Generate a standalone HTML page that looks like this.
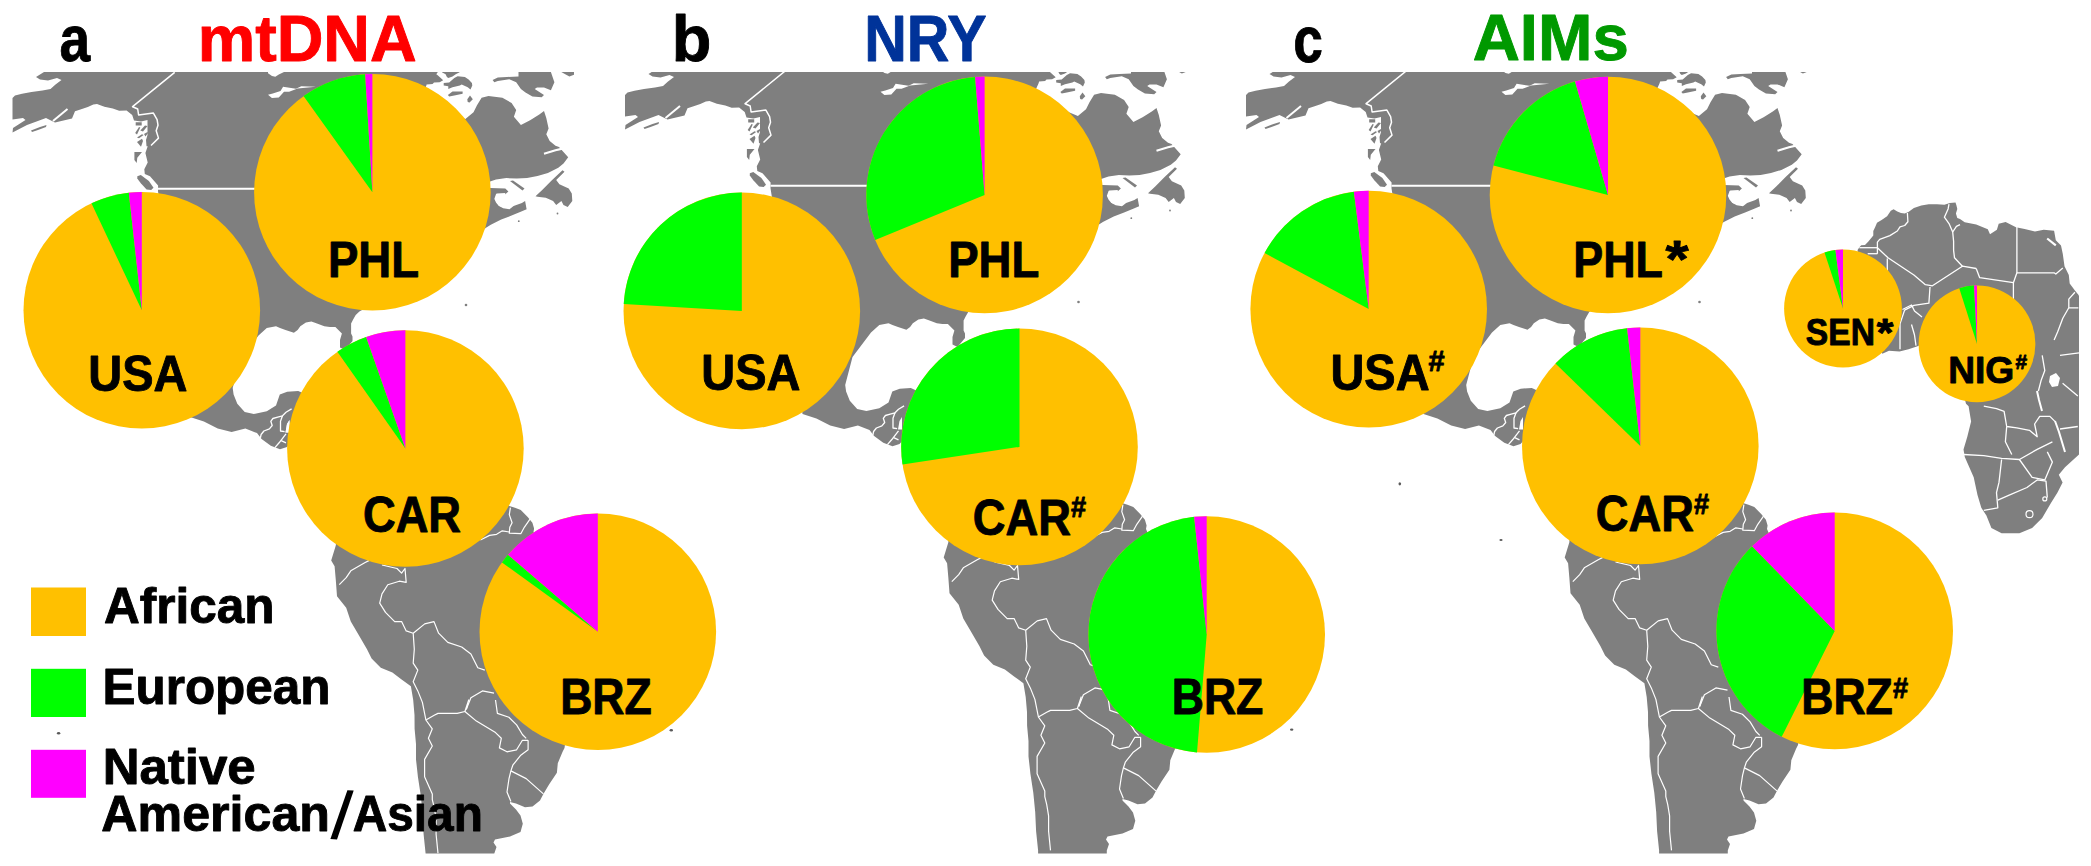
<!DOCTYPE html>
<html><head><meta charset="utf-8"><title>Ancestry pie charts</title>
<style>html,body{margin:0;padding:0;background:#fff;overflow:hidden}svg{display:block}</style>
</head><body><svg width="2091" height="866" viewBox="0 0 2091 866"><defs><g id="am"><g fill="#7f7f7f"><polygon points="44.0,60.0 437.7,60.0 437.7,72.2 436.3,74.3 437.7,75.2 443.2,80.3 439.6,82.2 434.0,82.6 432.6,84.0 426.6,84.5 426.2,85.9 420.0,100.0 465.4,119.1 473.5,112.2 477.0,105.3 481.6,97.8 488.5,96.0 502.4,97.8 511.6,103.0 516.2,109.9 513.9,116.8 520.9,124.9 530.1,120.3 539.3,114.5 544.0,111.0 546.3,118.0 548.6,128.4 546.3,134.2 549.7,141.1 555.5,145.7 559.0,146.9 568.2,157.3 563.5,163.5 558.3,167.7 547.9,172.9 537.5,176.0 527.1,178.1 516.8,178.6 506.4,178.1 496.0,179.6 490.8,181.2 480.0,185.0 490.3,187.9 505.3,188.4 508.4,191.6 505.3,194.2 497.0,194.7 495.5,198.8 497.0,202.0 499.1,206.1 503.2,208.2 509.5,209.2 513.6,206.1 521.9,203.0 525.1,200.9 526.6,209.2 521.9,211.3 511.6,215.5 501.2,219.6 490.8,224.8 485.6,227.9 430.0,280.0 380.0,300.0 359.4,311.4 355.7,315.1 353.0,319.7 351.1,323.4 351.1,333.6 352.5,336.4 352.5,341.0 345.0,350.0 340.0,347.4 340.0,340.0 341.9,333.6 335.4,327.1 329.9,327.1 324.3,326.2 317.0,323.4 311.4,321.6 305.9,322.5 300.3,326.2 297.6,329.9 293.9,332.7 285.5,329.9 280.0,328.0 276.0,326.2 266.8,328.0 258.5,335.4 240.0,360.0 232.7,388.0 233.6,394.5 237.3,403.8 244.7,412.1 253.9,414.0 266.8,411.2 276.0,405.6 279.8,394.5 287.2,391.8 298.2,390.9 300.0,391.8 360.0,420.0 480.0,480.0 509.3,506.0 515.0,507.7 520.8,510.0 527.7,516.9 532.4,522.7 534.1,528.5 533.5,532.0 580.0,640.0 564.5,747.9 562.6,751.8 557.8,763.3 556.9,772.8 549.2,784.3 543.4,793.9 540.0,800.6 532.5,806.6 525.0,807.3 516.0,803.6 510.0,802.0 510.0,803.6 516.0,809.6 520.5,815.6 522.8,823.8 520.5,832.0 510.0,836.6 495.0,839.6 493.5,842.6 496.5,847.1 494.3,853.4 494.3,870.0 425.6,870.0 425.6,853.4 423.6,834.2 422.7,815.0 420.8,795.8 417.9,776.7 416.0,759.4 416.0,744.1 414.6,728.8 414.5,715.0 413.2,700.1 410.9,686.3 401.6,679.4 392.4,672.4 380.8,667.8 371.6,658.6 367.0,649.3 357.7,633.2 350.8,621.6 346.2,607.8 337.0,596.2 335.8,580.0 334.6,566.2 331.2,560.4 335.8,545.4 340.0,500.0 289.3,444.6 287.0,447.0 280.0,449.3 270.8,445.8 261.6,438.9 257.0,433.1 245.4,428.5 231.6,432.0 217.7,428.5 203.9,421.6 190.0,417.0 180.0,330.0 158.0,191.3 158.1,185.5 150.0,176.2 144.8,173.9 144.3,169.3 147.7,162.4 145.4,153.1 147.7,146.2 146.5,146.2 146.0,140.0 147.5,135.0 147.5,120.0 141.0,121.5 134.0,120.5 132.2,115.0 126.6,110.4 119.2,110.8 112.8,108.5 104.4,106.7 97.0,104.1 93.3,104.4 87.8,107.1 80.4,109.4 75.0,111.3 72.0,118.5 55.0,122.5 46.0,118.0 27.0,125.0 12.5,132.5 13.0,128.0 25.5,120.0 23.0,118.0 12.5,119.6 12.5,98.0 15.0,95.6 22.0,93.7 31.5,92.0 42.5,90.5 50.5,89.0 55.5,84.5 61.5,80.0 57.0,78.0 48.0,80.5 40.0,79.5 36.0,77.0 44.0,72.0"/><polygon points="441.9,60.0 459.6,60.0 459.6,72.2 455.7,74.3 452.5,76.4 448.3,78.0 446.9,77.1 445.6,74.3 441.9,72.2"/><polygon points="443.7,83.1 443.7,85.4 448.3,86.3 448.3,89.1 452.5,87.2 459.9,85.4 461.7,84.5 467.7,87.2 470.5,89.5 472.3,85.4 471.9,83.1 468.6,79.4 464.9,77.1 457.6,76.2 454.3,78.0 449.2,82.6"/><polygon points="447.9,95.1 452.5,91.4 462.6,91.4 462.6,93.7 454.3,95.6 449.2,96.5"/><polygon points="467.3,99.2 470.0,95.6 472.8,99.2 469.6,102.5 467.7,102.0"/><polygon points="492.6,79.9 497.8,77.6 507.0,77.0 518.5,76.4 518.5,60.0 550.9,60.0 550.9,72.0 554.4,82.2 550.9,90.3 544.0,87.4 537.0,87.4 534.7,89.1 544.0,94.9 541.7,97.2 532.4,96.6 525.5,92.6 520.9,89.1 516.2,82.2 509.3,79.3 497.8,81.0 494.3,82.2"/><polygon points="561.3,60.0 574.0,60.0 574.0,74.7 569.4,76.4 564.8,74.1 561.3,72.0"/><polygon points="535.5,196.2 542.7,189.5 552.1,180.1 562.5,170.3 564.5,171.8 556.2,180.1 559.4,184.3 568.7,188.4 571.8,193.6 572.3,200.9 567.7,207.1 563.5,205.1 561.4,200.9 556.2,205.1 553.1,200.9 545.8,197.8 537.5,196.8"/><polygon points="510.0,181.0 513.0,180.5 524.5,188.5 522.5,190.5"/><polygon points="137.3,176.2 140.8,175.1 148.9,180.9 153.5,187.8 151.2,190.1 146.6,189.5 140.8,183.2 137.3,178.5"/><polygon points="134.4,152.0 142.0,152.0 137.3,157.8 136.7,163.0 134.4,160.0"/><polygon points="31.0,130.5 40.0,127.0 46.5,125.0 46.0,127.0 38.0,130.0 32.0,132.0"/><circle cx="466" cy="305" r="1.3"/><circle cx="518.8" cy="221.2" r="0.9"/><circle cx="557.5" cy="213.5" r="0.9"/></g><polygon points="287.0,424.0 289.5,420.0 289.5,432.5 285.5,432.5" fill="#fff"/><polygon points="268.0,60.0 268.0,73.3 272.0,75.9 275.3,76.8 278.8,74.6 284.0,72.0 284.0,60.0" fill="#fff"/><polygon points="268.0,94.8 271.9,97.9 278.8,97.4 284.0,91.8 289.1,91.8 297.7,88.4 315.8,86.7 301.2,86.2 296.0,88.8 283.1,86.7 280.5,91.0 272.8,93.5" fill="#fff"/><polygon points="135.7,122.2 141.7,122.2 141.7,125.4 135.7,125.4" fill="#7f7f7f"/><polygon points="135.2,133.0 139.0,127.0 140.3,127.5 137.0,134.6" fill="#7f7f7f"/><polygon points="140.3,130.5 145.0,125.4 147.5,126.0 143.0,131.4" fill="#7f7f7f"/><polygon points="144.0,134.0 147.5,131.9 148.0,133.0 145.5,136.5" fill="#7f7f7f"/><polygon points="137.0,137.5 142.0,134.2 143.6,135.0 139.0,138.3" fill="#7f7f7f"/><polygon points="137.0,142.0 142.0,138.8 143.0,141.0 141.0,146.7" fill="#7f7f7f"/><polyline points="174.7,72.3 132.6,106.7 137.7,109.0 138.6,115.0 153.4,113.1 157.1,119.6 158.0,125.2 156.2,130.7 158.5,138.1 151.0,145.5" fill="none" stroke="#fff" stroke-width="1.5" stroke-linejoin="round"/><polyline points="158.0,188.7 300.0,188.7" fill="none" stroke="#fff" stroke-width="2" stroke-linejoin="round"/><polyline points="67.5,109.0 53.0,121.0" fill="none" stroke="#fff" stroke-width="2" stroke-linejoin="round"/><polyline points="544.0,153.8 555.5,150.3 562.4,148.6" fill="none" stroke="#fff" stroke-width="2.2" stroke-linejoin="round"/><polyline points="505.3,194.2 497.0,194.7 495.5,198.8 497.0,202.0 499.5,205.0 504.0,206.5 509.0,206.5 513.0,203.5" fill="none" stroke="#fff" stroke-width="2.2" stroke-linejoin="round"/><polyline points="260.4,437.9 261.1,434.5 263.9,431.0 269.4,428.9 272.2,425.5 270.8,421.3 272.9,418.5 277.7,417.2 282.5,415.8 286.0,412.3 291.6,408.9" fill="none" stroke="#fff" stroke-width="1.3" stroke-linejoin="round"/><polyline points="282.5,415.8 280.5,421.3 280.5,431.0 284.6,431.7" fill="none" stroke="#fff" stroke-width="1.3" stroke-linejoin="round"/><polyline points="274.9,447.6 279.1,442.8 286.0,433.8" fill="none" stroke="#fff" stroke-width="1.3" stroke-linejoin="round"/><polyline points="281.2,440.7 286.0,442.8" fill="none" stroke="#fff" stroke-width="1.3" stroke-linejoin="round"/><polyline points="339.3,584.7 346.2,577.7 350.8,570.8 364.7,562.7 369.3,560.4" fill="none" stroke="#fff" stroke-width="1.2" stroke-linejoin="round"/><polyline points="382.0,565.0 397.0,568.5 401.6,573.1 405.0,568.5 406.2,582.4 399.3,581.2 387.8,584.7 382.0,593.9 379.7,603.1 385.5,612.4 394.7,621.6 401.6,621.6 406.2,630.9 413.2,633.2 424.7,623.9 434.0,621.6 438.6,633.2 447.8,642.4 461.7,647.0 470.9,653.9 477.8,667.8 484.8,670.1" fill="none" stroke="#fff" stroke-width="1.2" stroke-linejoin="round"/><polyline points="413.2,633.2 414.3,649.3 413.2,663.2 417.8,670.1 413.2,681.7 417.8,690.9 422.4,702.4 425.9,720.0 432.3,728.8 428.4,738.3 432.3,746.0 424.6,759.4 424.6,776.7 432.3,793.9 432.3,799.7 434.2,807.3 436.1,818.8 436.1,834.2 438.0,853.4" fill="none" stroke="#fff" stroke-width="1.2" stroke-linejoin="round"/><polyline points="425.9,720.0 434.2,715.3 438.0,713.4 457.2,713.4 464.9,711.5 468.7,700.0 466.3,709.4" fill="none" stroke="#fff" stroke-width="1.2" stroke-linejoin="round"/><polyline points="466.3,709.4 470.9,697.8 482.4,690.9 494.0,693.2" fill="none" stroke="#fff" stroke-width="1.2" stroke-linejoin="round"/><polyline points="464.9,711.5 476.4,721.1 495.5,732.6 501.3,738.3 499.4,747.9 507.0,751.8 516.6,749.8 522.4,740.3 528.1,740.3" fill="none" stroke="#fff" stroke-width="1.2" stroke-linejoin="round"/><polyline points="495.5,700.0 497.4,713.4 508.9,717.3 516.6,724.9 522.4,734.5 526.2,738.3" fill="none" stroke="#fff" stroke-width="1.2" stroke-linejoin="round"/><polyline points="528.1,740.3 528.1,749.8 520.4,755.6 512.8,765.2 510.9,770.9 509.0,778.6 507.0,792.0 510.9,801.6" fill="none" stroke="#fff" stroke-width="1.2" stroke-linejoin="round"/><polyline points="510.9,770.9 526.2,778.6 543.4,793.9" fill="none" stroke="#fff" stroke-width="1.2" stroke-linejoin="round"/><polyline points="510.4,507.7 509.3,514.6 512.1,522.7 509.8,527.3 509.3,533.1 520.8,533.7 524.3,527.3 530.0,519.2" fill="none" stroke="#fff" stroke-width="1.2" stroke-linejoin="round"/><polyline points="509.3,532.0 502.3,530.8 496.6,534.3 489.6,535.4 480.4,540.0" fill="none" stroke="#fff" stroke-width="1.2" stroke-linejoin="round"/></g><clipPath id="ca"><rect x="0" y="72" width="600" height="781.5"/></clipPath><clipPath id="cb"><rect x="600" y="72" width="600" height="781.5"/></clipPath><clipPath id="cc"><rect x="1200" y="72" width="880" height="781.5"/></clipPath></defs><g clip-path="url(#ca)"><use href="#am"/></g><g clip-path="url(#cb)"><use href="#am" transform="translate(612.5,-3)"/></g><g clip-path="url(#cc)"><use href="#am" transform="translate(1233.5,-3)"/></g><polygon points="1857.6,250.0 1859.4,247.2 1861.2,245.3 1865.0,244.9 1868.6,241.2 1873.3,235.6 1873.3,231.0 1875.1,227.3 1877.0,222.7 1881.6,220.0 1887.1,216.2 1890.8,210.7 1893.6,209.3 1897.3,211.6 1901.0,213.0 1904.7,213.5 1908.4,212.1 1913.9,207.9 1921.3,205.6 1928.7,204.2 1937.0,204.2 1944.4,204.7 1949.9,202.9 1955.5,202.4 1956.4,205.2 1957.3,208.9 1955.9,213.5 1957.3,218.1 1960.0,219.0 1964.7,222.3 1976.2,224.6 1987.8,229.3 1990.0,234.2 1996.9,229.8 1998.7,223.8 2005.6,222.0 2016.0,227.2 2024.6,229.0 2035.0,231.6 2043.7,229.8 2054.1,230.7 2055.8,240.2 2061.0,245.4 2062.8,254.1 2064.5,266.2 2068.8,274.9 2069.7,283.6 2074.9,290.5 2078.4,294.8 2079.0,296.0 2079.0,454.5 2065.0,467.2 2058.8,474.8 2062.6,482.4 2057.5,492.6 2051.1,502.7 2042.2,518.0 2032.1,528.1 2019.4,533.2 2001.6,533.2 1991.4,528.1 1986.4,515.4 1981.3,507.8 1977.5,495.1 1973.7,477.3 1964.8,457.0 1963.5,449.4 1967.3,436.7 1971.1,421.4 1968.6,406.2 1966.0,403.7 1960.0,380.0 1919.0,345.6 1917.5,346.3 1908.5,349.3 1899.5,351.6 1889.0,350.8 1882.3,353.8 1860.0,300.0" fill="#7f7f7f"/><polygon points="287.0,424.0 289.5,420.0 289.5,432.5 285.5,432.5" fill="#fff"/><polygon points="2050.0,376.0 2056.0,373.0 2060.0,378.0 2058.0,386.0 2052.0,387.0 2049.0,382.0" fill="#fff"/><polyline points="2047.2,238.5 2055.8,245.4" fill="none" stroke="#fff" stroke-width="2.2" stroke-linejoin="round"/><polyline points="2037.0,391.0 2039.0,400.0 2042.0,411.0" fill="none" stroke="#fff" stroke-width="2.0" stroke-linejoin="round"/><polyline points="2055.0,421.0 2059.0,432.0 2062.0,442.0 2065.0,452.0" fill="none" stroke="#fff" stroke-width="2.0" stroke-linejoin="round"/><polyline points="1907.4,213.0 1907.9,221.8 1904.7,225.5 1900.0,226.9 1897.3,231.0 1889.9,235.6 1879.7,239.3 1877.4,242.1 1877.4,253.7" fill="none" stroke="#fff" stroke-width="1.3" stroke-linejoin="round"/><polyline points="1859.4,247.7 1877.4,247.7" fill="none" stroke="#fff" stroke-width="1.3" stroke-linejoin="round"/><polyline points="1867.7,253.7 1877.4,253.7" fill="none" stroke="#fff" stroke-width="1.3" stroke-linejoin="round"/><polyline points="1877.4,247.7 1888.0,257.8 1913.9,275.0 1925.4,284.7 1932.4,285.8 1962.4,266.2 1976.2,268.5" fill="none" stroke="#fff" stroke-width="1.3" stroke-linejoin="round"/><polyline points="1887.3,258.5 1887.3,287.0 1876.0,290.0" fill="none" stroke="#fff" stroke-width="1.3" stroke-linejoin="round"/><polyline points="1949.0,204.2 1948.1,208.9 1944.4,217.2 1949.0,223.6 1952.7,232.0 1953.6,241.2 1953.6,250.4 1954.5,257.8 1962.4,266.2" fill="none" stroke="#fff" stroke-width="1.3" stroke-linejoin="round"/><polyline points="1952.7,232.0 1956.4,226.4 1960.0,224.6" fill="none" stroke="#fff" stroke-width="1.3" stroke-linejoin="round"/><polyline points="2016.9,227.0 2016.9,272.8 2054.1,272.8 2055.8,274.0 2062.8,268.0" fill="none" stroke="#fff" stroke-width="1.3" stroke-linejoin="round"/><polyline points="1976.2,268.5 1979.7,277.7 2013.4,282.7 2016.9,272.8" fill="none" stroke="#fff" stroke-width="1.3" stroke-linejoin="round"/><polyline points="2013.4,282.7 2013.4,340.0" fill="none" stroke="#fff" stroke-width="1.3" stroke-linejoin="round"/><polyline points="1930.0,287.0 1928.9,303.1 1913.9,305.4 1904.6,310.1 1900.0,323.9 1900.0,349.3" fill="none" stroke="#fff" stroke-width="1.3" stroke-linejoin="round"/><polyline points="1911.5,324.5 1914.5,335.0 1916.0,345.6" fill="none" stroke="#fff" stroke-width="1.3" stroke-linejoin="round"/><polyline points="1902.5,309.5 1911.5,305.0 1914.5,311.0 1922.0,317.0" fill="none" stroke="#fff" stroke-width="1.3" stroke-linejoin="round"/><polyline points="2074.9,292.2 2068.8,299.1 2068.8,307.8 2078.4,307.8" fill="none" stroke="#fff" stroke-width="1.3" stroke-linejoin="round"/><polyline points="2068.8,307.8 2062.8,318.2 2057.6,332.0 2054.1,340.0" fill="none" stroke="#fff" stroke-width="1.3" stroke-linejoin="round"/><polyline points="1963.5,454.5 1983.8,455.7 2001.6,458.3 2019.4,459.5 2037.2,449.4 2052.4,441.8" fill="none" stroke="#fff" stroke-width="1.3" stroke-linejoin="round"/><polyline points="2001.6,459.5 1999.0,482.4 1996.5,492.6 1997.8,507.8 1983.8,510.3" fill="none" stroke="#fff" stroke-width="1.3" stroke-linejoin="round"/><polyline points="1997.8,500.2 2009.2,495.1 2027.0,487.5 2037.2,479.9 2046.0,481.1 2047.3,497.6" fill="none" stroke="#fff" stroke-width="1.3" stroke-linejoin="round"/><polyline points="2019.4,459.5 2032.1,477.3 2044.8,479.9 2052.4,462.1 2047.3,451.9" fill="none" stroke="#fff" stroke-width="1.3" stroke-linejoin="round"/><polyline points="1983.8,406.2 1996.5,408.7 2004.1,411.3 2006.7,426.5 2016.8,427.8 2029.5,430.3 2037.2,436.7 2034.6,424.0 2039.7,416.4 2049.9,416.4 2054.9,421.4" fill="none" stroke="#fff" stroke-width="1.3" stroke-linejoin="round"/><polyline points="2006.7,426.5 2005.4,441.8 2011.8,454.5" fill="none" stroke="#fff" stroke-width="1.3" stroke-linejoin="round"/><polyline points="2042.2,355.4 2044.8,370.6 2041.0,380.8 2038.4,391.0" fill="none" stroke="#fff" stroke-width="1.3" stroke-linejoin="round"/><polyline points="2060.0,355.4 2079.0,352.9" fill="none" stroke="#fff" stroke-width="1.3" stroke-linejoin="round"/><polyline points="2062.6,383.3 2077.8,396.0" fill="none" stroke="#fff" stroke-width="1.3" stroke-linejoin="round"/><polyline points="2060.0,429.0 2077.8,426.5" fill="none" stroke="#fff" stroke-width="1.3" stroke-linejoin="round"/><circle cx="2044.8" cy="498.9" r="2" fill="none" stroke="#fff" stroke-width="1.2"/><circle cx="2029.5" cy="514.2" r="3.5" fill="none" stroke="#fff" stroke-width="1.2"/><g fill="#5a5a5a"><ellipse cx="1501" cy="540" rx="1.6" ry="1.1"/><ellipse cx="1399.8" cy="483.8" rx="1.3" ry="1.6"/><ellipse cx="671.3" cy="730.2" rx="1.7" ry="1.2"/><ellipse cx="1291.7" cy="729.6" rx="1.7" ry="1.2"/><ellipse cx="58.6" cy="733.2" rx="1.7" ry="1.2"/></g><circle cx="141.8" cy="310.3" r="118.3" fill="#ffc000"/><path d="M141.80,310.30 L128.82,192.71 A118.3,118.3 0 0 0 91.43,203.26 Z" fill="#00ff00"/><path d="M141.80,310.30 L141.80,192.00 A118.3,118.3 0 0 0 128.82,192.71 Z" fill="#ff00ff"/><circle cx="372.4" cy="192.3" r="118.3" fill="#ffc000"/><path d="M372.40,192.30 L365.18,74.22 A118.3,118.3 0 0 0 303.53,96.11 Z" fill="#00ff00"/><path d="M372.40,192.30 L372.40,74.00 A118.3,118.3 0 0 0 365.18,74.22 Z" fill="#ff00ff"/><circle cx="405.4" cy="448.5" r="118.3" fill="#ffc000"/><path d="M405.40,448.50 L366.11,336.92 A118.3,118.3 0 0 0 337.38,351.71 Z" fill="#00ff00"/><path d="M405.40,448.50 L405.40,330.20 A118.3,118.3 0 0 0 366.11,336.92 Z" fill="#ff00ff"/><circle cx="597.8" cy="631.8" r="118.3" fill="#ffc000"/><path d="M597.80,631.80 L507.98,554.81 A118.3,118.3 0 0 0 501.97,562.43 Z" fill="#00ff00"/><path d="M597.80,631.80 L597.80,513.50 A118.3,118.3 0 0 0 507.98,554.81 Z" fill="#ff00ff"/><circle cx="741.8" cy="310.9" r="118.3" fill="#ffc000"/><path d="M741.80,310.90 L741.80,192.60 A118.3,118.3 0 0 0 623.71,303.88 Z" fill="#00ff00"/><circle cx="984.6" cy="194.9" r="118.3" fill="#ffc000"/><path d="M984.60,194.90 L975.11,76.98 A118.3,118.3 0 0 0 875.23,239.98 Z" fill="#00ff00"/><path d="M984.60,194.90 L984.60,76.60 A118.3,118.3 0 0 0 975.11,76.98 Z" fill="#ff00ff"/><circle cx="1019.5" cy="446.9" r="118.3" fill="#ffc000"/><path d="M1019.50,446.90 L1019.50,328.60 A118.3,118.3 0 0 0 902.50,464.39 Z" fill="#00ff00"/><circle cx="1206.7" cy="634.5" r="118.3" fill="#ffc000"/><path d="M1206.70,634.50 L1194.13,516.87 A118.3,118.3 0 0 0 1197.01,752.40 Z" fill="#00ff00"/><path d="M1206.70,634.50 L1206.70,516.20 A118.3,118.3 0 0 0 1194.13,516.87 Z" fill="#ff00ff"/><circle cx="1368.7" cy="309.1" r="118.3" fill="#ffc000"/><path d="M1368.70,309.10 L1353.87,191.73 A118.3,118.3 0 0 0 1264.54,253.02 Z" fill="#00ff00"/><path d="M1368.70,309.10 L1368.70,190.80 A118.3,118.3 0 0 0 1353.87,191.73 Z" fill="#ff00ff"/><circle cx="1608" cy="195" r="118.3" fill="#ffc000"/><path d="M1608.00,195.00 L1575.00,81.40 A118.3,118.3 0 0 0 1493.42,165.58 Z" fill="#00ff00"/><path d="M1608.00,195.00 L1608.00,76.70 A118.3,118.3 0 0 0 1575.00,81.40 Z" fill="#ff00ff"/><circle cx="1640.3" cy="445.9" r="118.3" fill="#ffc000"/><path d="M1640.30,445.90 L1627.11,328.34 A118.3,118.3 0 0 0 1555.49,363.43 Z" fill="#00ff00"/><path d="M1640.30,445.90 L1640.30,327.60 A118.3,118.3 0 0 0 1627.11,328.34 Z" fill="#ff00ff"/><circle cx="1834.7" cy="630.9" r="118.3" fill="#ffc000"/><path d="M1834.70,630.90 L1752.08,546.23 A118.3,118.3 0 0 0 1781.73,736.68 Z" fill="#00ff00"/><path d="M1834.70,630.90 L1834.70,512.60 A118.3,118.3 0 0 0 1752.08,546.23 Z" fill="#ff00ff"/><circle cx="1843" cy="308.5" r="58.9" fill="#ffc000"/><path d="M1843.00,308.50 L1835.41,250.09 A58.9,58.9 0 0 0 1824.51,252.58 Z" fill="#00ff00"/><path d="M1843.00,308.50 L1843.00,249.60 A58.9,58.9 0 0 0 1835.41,250.09 Z" fill="#ff00ff"/><circle cx="1977" cy="343.9" r="58.4" fill="#ffc000"/><path d="M1977.00,343.90 L1974.05,285.57 A58.4,58.4 0 0 0 1959.24,288.26 Z" fill="#00ff00"/><path d="M1977.00,343.90 L1977.00,285.50 A58.4,58.4 0 0 0 1974.05,285.57 Z" fill="#ff00ff"/><g font-family="Liberation Sans, sans-serif" font-weight="bold" stroke-width="0.9" stroke-linejoin="round"><text x="88.25" y="390.8" font-size="49.88" fill="#000" stroke="#000" textLength="99.1" lengthAdjust="spacingAndGlyphs" >USA</text><text x="327.95" y="277.2" font-size="49.88" fill="#000" stroke="#000" textLength="91.1" lengthAdjust="spacingAndGlyphs" >PHL</text><text x="362.95" y="531.7" font-size="49.88" fill="#000" stroke="#000" textLength="98.1" lengthAdjust="spacingAndGlyphs" >CAR</text><text x="560.15" y="713.6" font-size="49.88" fill="#000" stroke="#000" textLength="91.6" lengthAdjust="spacingAndGlyphs" >BRZ</text><text x="701.25" y="390.2" font-size="49.88" fill="#000" stroke="#000" textLength="99.1" lengthAdjust="spacingAndGlyphs" >USA</text><text x="948.15" y="276.6" font-size="49.88" fill="#000" stroke="#000" textLength="91.1" lengthAdjust="spacingAndGlyphs" >PHL</text><text x="972.75" y="534.6" font-size="49.88" fill="#000" stroke="#000" textLength="98.1" lengthAdjust="spacingAndGlyphs" >CAR</text><text x="1171.75" y="713.6" font-size="49.88" fill="#000" stroke="#000" textLength="91.6" lengthAdjust="spacingAndGlyphs" >BRZ</text><text x="1330.45" y="390.1" font-size="49.88" fill="#000" stroke="#000" textLength="99.1" lengthAdjust="spacingAndGlyphs" >USA</text><text x="1573.25" y="276.6" font-size="49.88" fill="#000" stroke="#000" textLength="89.6" lengthAdjust="spacingAndGlyphs" >PHL</text><text x="1595.75" y="531.1" font-size="49.88" fill="#000" stroke="#000" textLength="98.1" lengthAdjust="spacingAndGlyphs" >CAR</text><text x="1801.25" y="713.7" font-size="49.88" fill="#000" stroke="#000" textLength="91.6" lengthAdjust="spacingAndGlyphs" >BRZ</text><text x="1805.85" y="345.2" font-size="36.98" fill="#000" stroke="#000" textLength="69.1" lengthAdjust="spacingAndGlyphs" >SEN</text><text x="1948.15" y="382.5" font-size="36.98" fill="#000" stroke="#000" textLength="66.1" lengthAdjust="spacingAndGlyphs" >NIG</text><text x="1071.05" y="516.6" font-size="29.38" fill="#000" stroke="#000" textLength="15.1" lengthAdjust="spacingAndGlyphs" >#</text><text x="1428.45" y="371" font-size="29.38" fill="#000" stroke="#000" textLength="16.1" lengthAdjust="spacingAndGlyphs" >#</text><text x="1694.05" y="513.5" font-size="29.38" fill="#000" stroke="#000" textLength="15.1" lengthAdjust="spacingAndGlyphs" >#</text><text x="1892.95" y="698" font-size="29.38" fill="#000" stroke="#000" textLength="15.1" lengthAdjust="spacingAndGlyphs" >#</text><text x="2015.45" y="369" font-size="20.88" fill="#000" stroke="#000" textLength="11.6" lengthAdjust="spacingAndGlyphs" >#</text><text x="1665.45" y="276.5" font-size="51.38" fill="#000" stroke="#000" textLength="23.1" lengthAdjust="spacingAndGlyphs" >*</text><text x="1876.65" y="345.6" font-size="37.88" fill="#000" stroke="#000" textLength="16.6" lengthAdjust="spacingAndGlyphs" >*</text><text x="59.45" y="61.2" font-size="65.38" fill="#000" stroke="#000" textLength="30.6" lengthAdjust="spacingAndGlyphs" >a</text><text x="197.65" y="61.2" font-size="65.68" fill="#ff0000" stroke="#ff0000" textLength="219.1" lengthAdjust="spacingAndGlyphs" >mtDNA</text><text x="671.75" y="61.2" font-size="65.38" fill="#000" stroke="#000" textLength="39.6" lengthAdjust="spacingAndGlyphs" >b</text><text x="864.15" y="61.2" font-size="65.68" fill="#003399" stroke="#003399" textLength="122.4" lengthAdjust="spacingAndGlyphs" >NRY</text><text x="1293.25" y="61.6" font-size="65.38" fill="#000" stroke="#000" textLength="29.6" lengthAdjust="spacingAndGlyphs" >c</text><text x="1472.65" y="59.9" font-size="65.68" fill="#009900" stroke="#009900" textLength="156.1" lengthAdjust="spacingAndGlyphs" >AIMs</text><rect x="31" y="587.5" width="55" height="48.5" fill="#ffc000"/><rect x="31" y="668.8" width="55" height="48.2" fill="#00ff00"/><rect x="31" y="749.8" width="55" height="48" fill="#ff00ff"/><text x="103.95" y="622.9" font-size="49.38" fill="#000" stroke="#000" textLength="170.6" lengthAdjust="spacingAndGlyphs" >African</text><text x="102.45" y="704" font-size="49.38" fill="#000" stroke="#000" textLength="228.1" lengthAdjust="spacingAndGlyphs" >European</text><text x="102.65" y="784" font-size="49.38" fill="#000" stroke="#000" textLength="153.1" lengthAdjust="spacingAndGlyphs" >Native</text><text x="101.35" y="831.3" font-size="49.38" fill="#000" stroke="#000" textLength="228.6" lengthAdjust="spacingAndGlyphs" >American</text><text x="352.75" y="831.3" font-size="49.38" fill="#000" stroke="#000" textLength="130.1" lengthAdjust="spacingAndGlyphs" >Asian</text><polygon points="347.4,790.2 353.7,790.5 337,839.4 330.4,839.1" fill="#000"/></g></svg></body></html>
